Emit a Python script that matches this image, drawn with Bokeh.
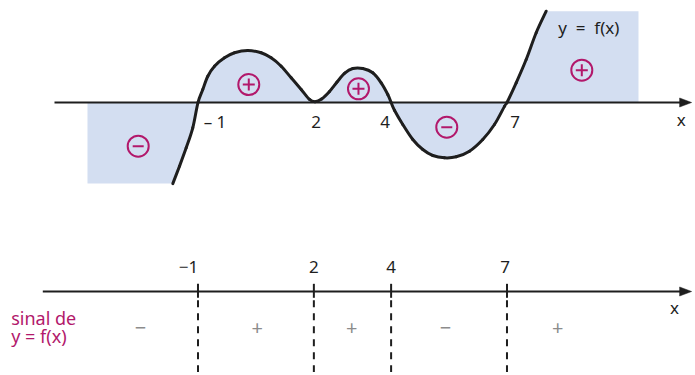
from bokeh.plotting import figure
from bokeh.models import Range1d
from bokeh.embed import file_html
from bokeh.resources import INLINE
from bokeh.core.properties import value

# ---- data (x in units of the number line) ----
curve_x = [-1.652, -1.479, -1.305, -1.135, -1.0, -0.876, -0.746, -0.573, -0.314, -0.055,
           0.289, 0.636, 0.895, 1.154, 1.413, 1.672, 1.887, 2.03, 2.2, 2.4,
           2.6, 2.8, 3.008, 3.267, 3.526, 3.743, 3.914, 4.0, 4.087, 4.302,
           4.561, 4.820, 5.079, 5.382, 5.685, 6.029, 6.373, 6.676, 6.935, 7.0,
           7.238, 7.497, 7.756, 8.015]
curve_y = [-2.10, -1.649, -1.173, -0.655, 0.0, 0.337, 0.681, 0.940, 1.157, 1.287,
           1.346, 1.287, 1.157, 0.940, 0.639, 0.337, 0.078, 0.02, 0.09, 0.28,
           0.53, 0.76, 0.880, 0.880, 0.769, 0.510, 0.207, 0.0, -0.2, -0.570,
           -0.958, -1.217, -1.372, -1.432, -1.406, -1.261, -0.958, -0.570, -0.1, 0.0,
           0.510, 1.113, 1.805, 2.364]

zeros = [-1, 2, 4, 7]
top_zero_labels = ["\u2013 1", "2", "4", "7"]
bottom_zero_labels = ["\u22121", "2", "4", "7"]

region_signs = ["\u2212", "+", "+", "\u2212", "+"]

# layout of annotations (data units)
sign_circle_x = [-2.548, 0.315, 3.155, 5.441, 8.937]
sign_circle_y = [-1.131, 0.466, 0.355, -0.639, 0.836]
sign_row_x = [-2.489, 0.533, 2.982, 5.408, 8.315]
top_lab_x = [-0.56, 2.06, 3.847, 7.212]
bot_lab_x = [-1.246, 2.0, 4.0, 6.95]
shade_left, shade_right = -3.861, 10.405

MAG = "#b2186b"
INK = "#1e1e1e"
SHADE = "#d3def1"
FONT = value("Noto Sans")

p = figure(width=692, height=372, output_backend="svg", toolbar_location=None,
           x_range=Range1d(-6.113, 11.803), y_range=Range1d(-6.990, 2.641),
           min_border=0)
p.axis.visible = False
p.grid.visible = False
p.outline_line_color = None
p.background_fill_color = "white"
p.border_fill_color = "white"

# ---- shaded region ----
px = [shade_left, shade_left] + curve_x + [shade_right, shade_right]
py = [0.0, curve_y[0]] + curve_y + [curve_y[-1], 0.0]
p.patch(px, py, fill_color=SHADE, line_color=None)

# ---- axes (top graph and bottom sign line) ----
tip = 11.78
hl, hw = 0.311, 0.117
for ay, ax0 in [(0.0, -4.715), (-4.893, -5.018)]:
    p.line([ax0, tip - hl + 0.05], [ay, ay], line_color=INK, line_width=2)
    p.patch([tip - hl, tip, tip - hl], [ay + hw, ay, ay - hw], fill_color=INK, line_color=INK,
            line_width=0.5)

# ---- curve: smooth cubic pieces through the read points (Catmull-Rom handles) ----
n = len(curve_x)
x0s, y0s, x1s, y1s, cx0, cy0, cx1, cy1 = [], [], [], [], [], [], [], []
for i in range(n - 1):
    a = max(i - 1, 0)
    b = min(i + 2, n - 1)
    x0s.append(curve_x[i]); y0s.append(curve_y[i])
    x1s.append(curve_x[i + 1]); y1s.append(curve_y[i + 1])
    cx0.append(curve_x[i] + (curve_x[i + 1] - curve_x[a]) / 6.0)
    cy0.append(curve_y[i] + (curve_y[i + 1] - curve_y[a]) / 6.0)
    cx1.append(curve_x[i + 1] - (curve_x[b] - curve_x[i]) / 6.0)
    cy1.append(curve_y[i + 1] - (curve_y[b] - curve_y[i]) / 6.0)
p.bezier(x0=x0s, y0=y0s, x1=x1s, y1=y1s, cx0=cx0, cy0=cy0, cx1=cx1, cy1=cy1,
         line_color=INK, line_width=3, line_cap="round")

# top tick labels
p.text(top_lab_x, [-0.492] * 4, text=top_zero_labels, text_align="center", text_baseline="middle",
       text_font=FONT, text_font_size="17px", text_color=INK)
p.text([11.51], [-0.44], text=["x"], text_align="center", text_baseline="middle",
       text_font=FONT, text_font_size="17px", text_color=INK)
p.text([9.118], [1.942], text=["y\u00a0\u00a0=\u00a0\u00a0f(x)"], text_align="center",
       text_baseline="middle", text_font=FONT, text_font_size="17px", text_color=INK)

# sign circles
p.scatter(sign_circle_x, sign_circle_y, marker="circle", size=21, fill_color=None,
          line_color=MAG, line_width=2)
plus_x = [x for x, s in zip(sign_circle_x, region_signs) if s == "+"]
plus_y = [y for y, s in zip(sign_circle_y, region_signs) if s == "+"]
minus_x = [x for x, s in zip(sign_circle_x, region_signs) if s != "+"]
minus_y = [y for y, s in zip(sign_circle_y, region_signs) if s != "+"]
p.scatter(plus_x, plus_y, marker="cross", size=12, line_color=MAG, line_width=2)
p.scatter(minus_x, minus_y, marker="dash", size=11, line_color=MAG, line_width=2)

# ---- bottom sign line ----
p.segment(zeros, [-4.694] * 4, zeros, [-5.056] * 4, line_color=INK, line_width=2)
p.segment(zeros, [-5.12] * 4, zeros, [-7.1] * 4, line_color=INK, line_width=2,
          line_dash="7 6")

p.text(bot_lab_x, [-4.254] * 4, text=bottom_zero_labels, text_align="center", text_baseline="middle",
       text_font=FONT, text_font_size="17px", text_color=INK)
p.text([11.337], [-5.315], text=["x"], text_align="center", text_baseline="middle",
       text_font=FONT, text_font_size="17px", text_color=INK)
p.text(sign_row_x, [-5.833] * 5, text=region_signs, text_align="center", text_baseline="middle",
       text_font=FONT, text_font_size="20px", text_color="#8c8c8c")
p.text([-5.836, -5.836], [-5.574, -6.050], text=["sinal de", "y = f(x)"], text_align="left",
       text_baseline="middle", text_font=FONT, text_font_size="18px", text_color=MAG)

open("out.html", "w").write(file_html(p, INLINE))
